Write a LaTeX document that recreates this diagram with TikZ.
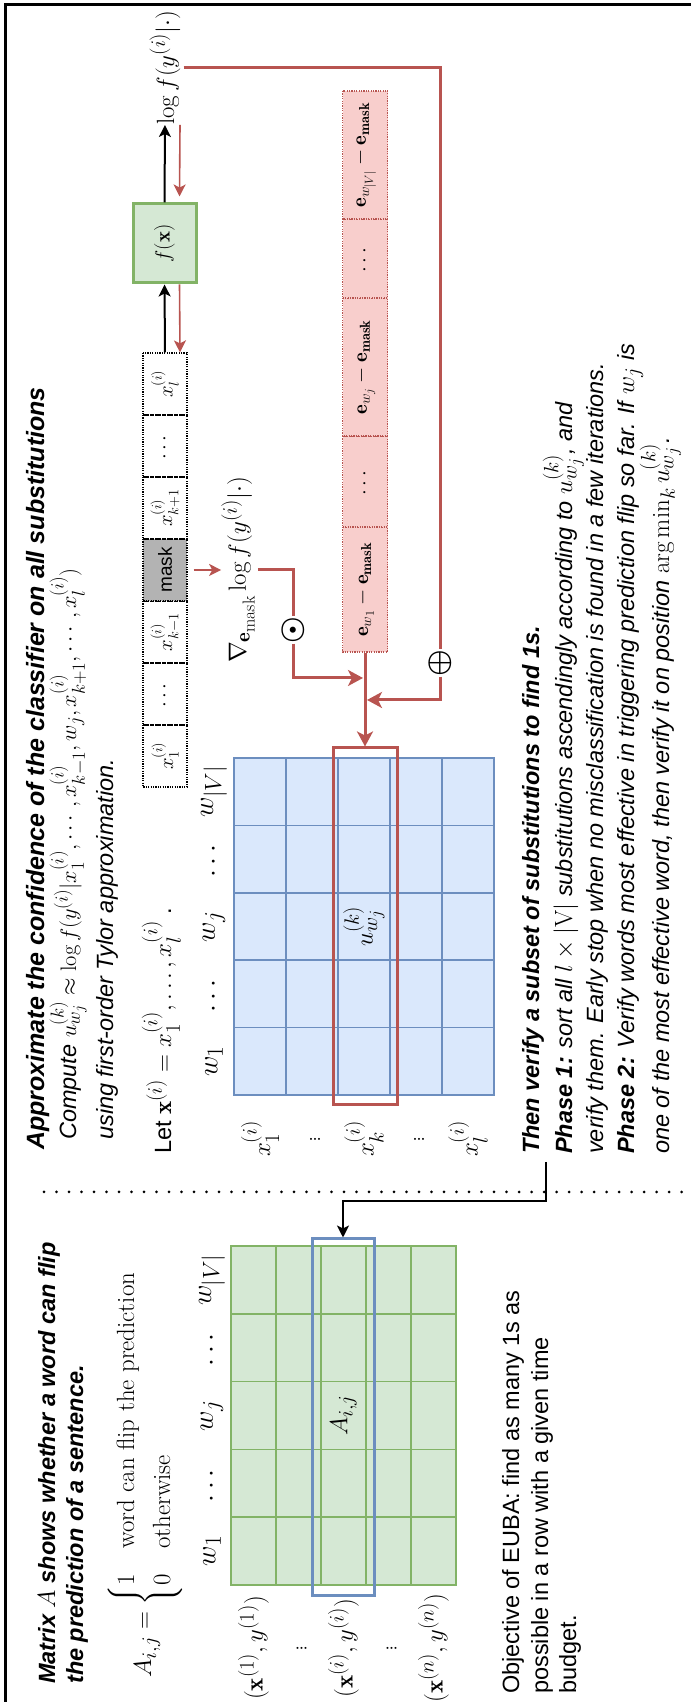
\RequirePackage{fix-cm}
\documentclass[tikz,border=0pt]{standalone}
\usepackage{amsmath}
\usepackage{graphicx}
\usepackage{fontspec}
\newfontfamily\arial{Liberation Sans}
\usetikzlibrary{arrows.meta,calc}
\definecolor{redc}{HTML}{B85450}
\definecolor{pinkf}{HTML}{F8CECC}
\definecolor{greenf}{HTML}{D5E8D4}
\definecolor{greenc}{HTML}{82B366}
\definecolor{bluef}{HTML}{DAE8FC}
\definecolor{bluec}{HTML}{6C8EBF}
\definecolor{grayf}{HTML}{B3B3B3}
\newcommand\M[1]{{\fontsize{24.88}{28}\selectfont$#1$}}
\newcommand\MS[1]{\scalebox{0.9}{\fontsize{24.88}{28}\selectfont$#1$}}
\newcommand\LB[1]{\scalebox{1.13}{$#1$}}
\begin{document}
\begin{tikzpicture}[x=1pt,y=1pt,rotate=90,transform shape,
  sans/.style={font=\fontsize{23.5}{28}\selectfont\arial, inner sep=0pt, anchor=base west},
  mth/.style={font=\fontsize{24.88}{30}\selectfont, inner sep=0pt},
  tok/.style={draw, dash pattern=on 1.2pt off 1.2pt, line width=1.2pt, minimum width=62pt, minimum height=44pt, inner sep=0pt, font=\fontsize{20.74}{24}\selectfont},
  pinkc/.style={draw=redc, fill=pinkf, dash pattern=on 1.2pt off 1.2pt, line width=1.2pt, minimum height=45pt, inner sep=0pt, font=\fontsize{20.74}{24}\selectfont},
  gline/.style={draw=greenc, line width=1.5pt},
  bline/.style={draw=bluec, line width=1.5pt},
  blk/.style={draw=black, line width=2pt, -{Stealth[length=12pt,width=12pt,inset=3pt]}},
  redthin/.style={draw=redc, line width=1.6pt, -{Stealth[length=12pt,width=12pt,inset=3pt]}},
  redthick/.style={draw=redc, line width=3pt},
  redarrow/.style={draw=redc, line width=3pt, -{Stealth[length=15pt,width=16pt,inset=4pt]}},
  sepdot/.style={draw=black, line width=3pt, line cap=round, dash pattern=on 0pt off 12.5pt},
  circ/.style={inner sep=0pt, font=\fontsize{29.86}{30}\selectfont}
]
\useasboundingbox (0,0) rectangle (1702,-691);
% frame
\draw[line width=3pt] (0,-5.5) -- (1697,-5.5) -- (1697,-691);
% separator
\draw[sepdot] (510,-44) -- (510,-691);

% ---------- left block ----------
\node[sans] (mA1) at (18,-55) {\bfseries\itshape Matrix \M{A} shows whether a word can flip};
\node[sans] (mA2) at (18,-83) {\bfseries\itshape the prediction of a sentence.};
\node[mth, anchor=west] (aij) at (24,-145) {$A_{i,j}=\begin{cases}1 & \text{word can flip the prediction}\\ 0 & \text{otherwise}\end{cases}$};

\node[draw=greenc, fill=greenf, line width=1.5pt, minimum width=339pt, minimum height=225pt, inner sep=0pt] (gmat) at (286.5,-343.5) {};
\foreach \x in {184.8,252.6,320.4,388.2} \draw[gline] (\x,-231) -- (\x,-456);
\foreach \y in {276,321,366,411} \draw[gline] (117,-\y) -- (456,-\y);
\node[mth] (gw1) at (150.9,-212) {\LB{w_1}};
\node[mth] (gd1) at (218.7,-212) {\LB{\cdots}};
\node[mth] (gwj) at (286.5,-212) {\LB{w_j}};
\node[mth] (gd2) at (354.3,-212) {\LB{\cdots}};
\node[mth] (gwv) at (422.1,-212) {\LB{w_{|V|}}};
\node[mth] (gaij) at (286.5,-343.5) {$A_{i,j}$};
\node[mth] (gr1) at (54,-253.5) {$(\mathbf{x}^{(1)},y^{(1)})$};
\node[mth] (gv1) at (54,-298.5) {$\vdots$};
\node[mth] (gri) at (54,-343.5) {$(\mathbf{x}^{(i)},y^{(i)})$};
\node[mth] (gv2) at (54,-388.5) {$\vdots$};
\node[mth] (grn) at (54,-433.5) {$(\mathbf{x}^{(n)},y^{(n)})$};
\node[draw=bluec, line width=3pt, minimum width=357pt, minimum height=62pt, inner sep=0pt] (bsel) at (284.5,-343) {};

\node[sans] (obj1) at (8,-519) {Objective of EUBA: find as many 1s as};
\node[sans] (obj2) at (8,-548) {possible in a row with a given time};
\node[sans] (obj3) at (8,-576) {budget.};

% ---------- right block texts ----------
\node[sans, font=\fontsize{25}{28}\selectfont\arial] (ap1) at (552,-44) {\bfseries\itshape Approximate the confidence of the classifier on all substitutions};
\node[sans] (ap2) at (562,-76) {\itshape Compute \MS{u^{(k)}_{w_j}\approx\log f(y^{(i)}|x_1^{(i)},\cdots,x_{k-1}^{(i)},w_j,x_{k+1}^{(i)},\cdots,x_l^{(i)})}};
\node[sans] (ap3) at (562,-113) {\itshape using first-order Tylor approximation.};
\node[sans] (letx) at (548,-171) {Let \M{\mathbf{x}^{(i)}=x_1^{(i)},\ldots,x_l^{(i)}} .};

\node[sans] (then) at (548,-539) {\bfseries\itshape Then verify a subset of substitutions to find 1s.};
\node[sans] (ph1) at (548,-572) {\itshape\textbf{Phase 1:} sort all \M{l\times|\mathrm{V}|} substitutions ascendingly according to \M{u^{(k)}_{w_j}}, and};
\node[sans] (ph1b) at (548,-603) {\itshape verify them. Early stop when no misclassification is found in a few iterations.};
\node[sans] (ph2) at (548,-634) {\itshape\textbf{Phase 2:} Verify words most effective in triggering prediction flip so far. If \M{w_j} is};
\node[sans] (ph2b) at (548,-669) {\itshape one of the most effective word, then verify it on position \M{\arg\min_k u^{(k)}_{w_j}}.};

% ---------- blue matrix ----------
\node[draw=bluec, fill=bluef, line width=1.5pt, minimum width=337pt, minimum height=260pt, inner sep=0pt] (bmat) at (775.5,-364) {};
\foreach \x in {674.4,741.8,809.2,876.6} \draw[bline] (\x,-234) -- (\x,-494);
\foreach \y in {286,338,390,442} \draw[bline] (607,-\y) -- (944,-\y);
\node[mth] (bw1) at (640.7,-214) {\LB{w_1}};
\node[mth] (bd1) at (708.1,-214) {\LB{\cdots}};
\node[mth] (bwj) at (775.5,-214) {\LB{w_j}};
\node[mth] (bd2) at (842.9,-214) {\LB{\cdots}};
\node[mth] (bwv) at (910.3,-214) {\LB{w_{|V|}}};
\node[mth] (ukw) at (775.5,-364) {$u^{(k)}_{w_j}$};
\node[mth] (bx1) at (563,-260) {$x_1^{(i)}$};
\node[mth] (bv1) at (563,-312) {$\vdots$};
\node[mth] (bxk) at (563,-364) {$x_k^{(i)}$};
\node[mth] (bv2) at (563,-416) {$\vdots$};
\node[mth] (bxl) at (563,-468) {$x_l^{(i)}$};
\node[draw=redc, line width=3pt, minimum width=357pt, minimum height=64pt, inner sep=0pt] (rsel) at (775.5,-365) {};

% ---------- token sequence ----------
\node[tok] (t1) at (946,-165) {$x_1^{(i)}$};
\node[tok] (t2) at (1008,-165) {$\cdots$};
\node[tok] (t3) at (1070,-165) {$x_{k-1}^{(i)}$};
\node[tok, fill=grayf, font=\fontsize{19}{22}\selectfont\arial] (t4) at (1132,-165) {mask};
\node[tok] (t5) at (1194,-165) {$x_{k+1}^{(i)}$};
\node[tok] (t6) at (1256,-165) {$\cdots$};
\node[tok] (t7) at (1318,-165) {$x_l^{(i)}$};

\node[draw=greenc, fill=greenf, line width=3pt, minimum width=79pt, minimum height=63pt, inner sep=0pt, font=\fontsize{20.74}{25}\selectfont] (fx) at (1458.5,-164.5) {$f(\mathbf{x})$};
\node[mth, anchor=west] (logf) at (1577,-165) {$\log f(y^{(i)}|\cdot)$};

% ---------- pink column ----------
\node[pinkc, minimum width=125pt] (p1) at (1112.5,-365) {$\mathbf{e}_{w_1}-\mathbf{e}_{\mathbf{mask}}$};
\node[pinkc, minimum width=91pt] (p2) at (1220.5,-365) {$\cdots$};
\node[pinkc, minimum width=138pt] (p3) at (1335,-365) {$\mathbf{e}_{w_j}-\mathbf{e}_{\mathbf{mask}}$};
\node[pinkc, minimum width=79pt] (p4) at (1443.5,-365) {$\cdots$};
\node[pinkc, minimum width=128pt] (p5) at (1547,-365) {$\mathbf{e}_{w_{|V|}}-\mathbf{e}_{\mathbf{mask}}$};

\node[mth] (nabla) at (1132,-238) {$\nabla_{\mathbf{e}_{\mathrm{mask}}}\log f(y^{(i)}|\cdot)$};
\node[circ] (odot) at (1072,-293) {$\boldsymbol{\odot}$};
\node[circ] (oplus) at (1039,-440) {$\boldsymbol{\oplus}$};

\coordinate (j1) at (1024,-363);
\coordinate (j2) at (1002,-367);
\coordinate (s0) at (540,-546);
\coordinate (c1) at (501,-546);

% ---------- connectors ----------
\draw[blk] (t7.east) -- (fx.west);
\draw[blk] (fx.east) -- (logf.west);
\draw[redthin] ($(logf.west)+(0,-15)$) -- ($(fx.east)+(6,-15)$);
\draw[redthin] ($(fx.west)+(0,-15)$) -- ($(t7.east)+(0,-15)$);
\draw[redthin] ($(t4.south)+(0,-6)$) -- (nabla.north);
\draw[redthick] ($(nabla.south)+(0,-3)$) |- (odot.east);
\draw[redarrow] (odot.west) -| (j1);
\draw[redthick] ($(logf.south)+(0,-3)$) |- (oplus.east);
\draw[redarrow] (oplus.west) -| (j2);
\draw[redarrow] (p1.west) -- (rsel.east);
\draw[blk] (s0) -- (c1) |- (bsel.east);
\end{tikzpicture}
\end{document}
